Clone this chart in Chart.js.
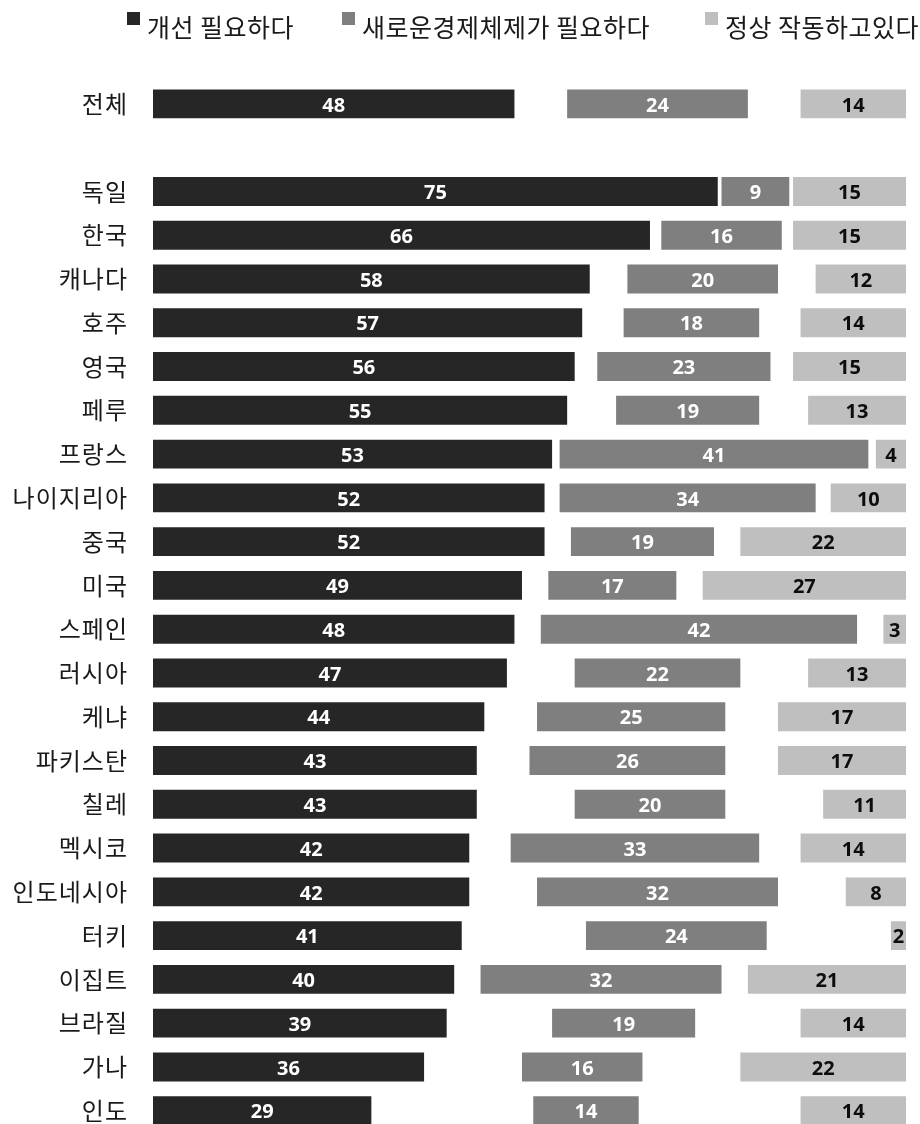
<!DOCTYPE html>
<html>
<head>
<meta charset="utf-8">
<script src="https://cdn.jsdelivr.net/npm/chart.js@4.4.0/dist/chart.umd.min.js"></script>
<style>
    body { margin: 0; background: #ffffff; overflow: hidden; }
    #myChart { display: block; }
</style>
</head>
<body>
<!-- taller than the window on purpose: the last row is cut by the bottom edge, as in the picture -->
<canvas id="myChart" width="920" height="1172"></canvas>
<script>
let categories = ['전체', '', '독일', '한국', '캐나다', '호주', '영국', '페루', '프랑스', '나이지리아', '중국', '미국',
    '스페인', '러시아', '케냐', '파키스탄', '칠레', '멕시코', '인도네시아', '터키', '이집트', '브라질', '가나', '인도'];
let improve = [48, null, 75, 66, 58, 57, 56, 55, 53, 52, 52, 49, 48, 47, 44, 43, 43, 42, 42, 41, 40, 39, 36, 29];
let newSystem = [24, null, 9, 16, 20, 18, 23, 19, 41, 34, 19, 17, 42, 22, 25, 26, 20, 33, 32, 24, 32, 19, 16, 14];
let working = [14, null, 15, 15, 12, 14, 15, 13, 4, 10, 22, 27, 3, 13, 17, 17, 11, 14, 8, 2, 21, 14, 22, 14];
let seriesNames = ['개선 필요하다', '새로운경제체제가 필요하다', '정상 작동하고있다'];
let seriesColors = ['#262626', '#7f7f7f', '#bfbfbf'];
let labelColors = ['#ffffff', '#ffffff', '#0d0d0d'];

const KR_FONT = '"Noto Sans CJK KR", "Noto Sans", sans-serif';
const legendX = [127, 342, 705];

// each row reads as 0..100: the rest (no answer) is split evenly on both sides of the middle bar
function build_ranges() {
    let r1 = [], r2 = [], r3 = [];
    for (let i = 0; i < categories.length; i++) {
        if (improve[i] == null) {
            r1.push(null); r2.push(null); r3.push(null);
            continue;
        }
        let gap = (100 - improve[i] - newSystem[i] - working[i]) / 2;
        r1.push([0, improve[i]]);
        r2.push([improve[i] + gap, improve[i] + gap + newSystem[i]]);
        r3.push([100 - working[i], 100]);
    }
    return [r1, r2, r3];
}

// a bit of letter spacing for the country names (scales are drawn before the bars)
const tickSpacing = {
    id: 'tickSpacing',
    beforeDraw(chart) { chart.ctx.letterSpacing = '1px'; },
    beforeDatasetsDraw(chart) { chart.ctx.letterSpacing = '0px'; }
};

const barLabels = {
    id: 'barLabels',
    afterDatasetsDraw(chart) {
        const ctx = chart.ctx;
        ctx.save();
        ctx.font = 'bold 20px "Open Sans", sans-serif';
        ctx.textAlign = 'center';
        ctx.textBaseline = 'middle';
        chart.data.datasets.forEach((ds, di) => {
            const meta = chart.getDatasetMeta(di);
            meta.data.forEach((bar, i) => {
                const v = ds.values[i];
                if (v == null) return;
                ctx.fillStyle = labelColors[di];
                ctx.fillText(String(v), (bar.x + bar.base) / 2, bar.y + 2);
            });
        });
        ctx.restore();
    }
};

const topLegend = {
    id: 'topLegend',
    afterDraw(chart) {
        const ctx = chart.ctx;
        ctx.save();
        ctx.letterSpacing = '0.5px';
        ctx.font = '25px ' + KR_FONT;
        ctx.textBaseline = 'middle';
        ctx.textAlign = 'left';
        chart.data.datasets.forEach((ds, di) => {
            const x = legendX[di];
            ctx.fillStyle = seriesColors[di];
            ctx.fillRect(x, 12, 13, 13);
            ctx.fillStyle = '#1a1a1a';
            ctx.fillText(ds.label, x + 20, 27);
        });
        ctx.restore();
    }
};

function draw_chart() {
    const ranges = build_ranges();
    const values = [improve, newSystem, working];
    let datasets = [];
    for (let i = 0; i < 3; i++) {
        datasets.push({
            label: seriesNames[i],
            data: ranges[i],
            values: values[i],
            backgroundColor: seriesColors[i],
            borderWidth: 0,
            grouped: false,
            barPercentage: 0.66,
            categoryPercentage: 1.0
        });
    }
    var ctx = document.getElementById('myChart');
    var chart = new Chart(ctx, {
        type: 'bar',
        data: { labels: categories, datasets: datasets },
        plugins: [tickSpacing, barLabels, topLegend],
        options: {
            indexAxis: 'y',
            responsive: false,
            animation: false,
            layout: { padding: { top: 82, right: 14, bottom: 7, left: 0 } },
            scales: {
                x: { min: 0, max: 100, display: false },
                y: {
                    grid: { display: false, drawTicks: false },
                    border: { display: false },
                    afterFit: (axis) => { axis.width = 153; },
                    ticks: {
                        padding: 25,
                        color: '#1a1a1a',
                        font: { family: KR_FONT, size: 24 }
                    }
                }
            },
            plugins: {
                legend: { display: false },
                tooltip: { enabled: false }
            }
        }
    });
}

draw_chart();
</script>
</body>
</html>
